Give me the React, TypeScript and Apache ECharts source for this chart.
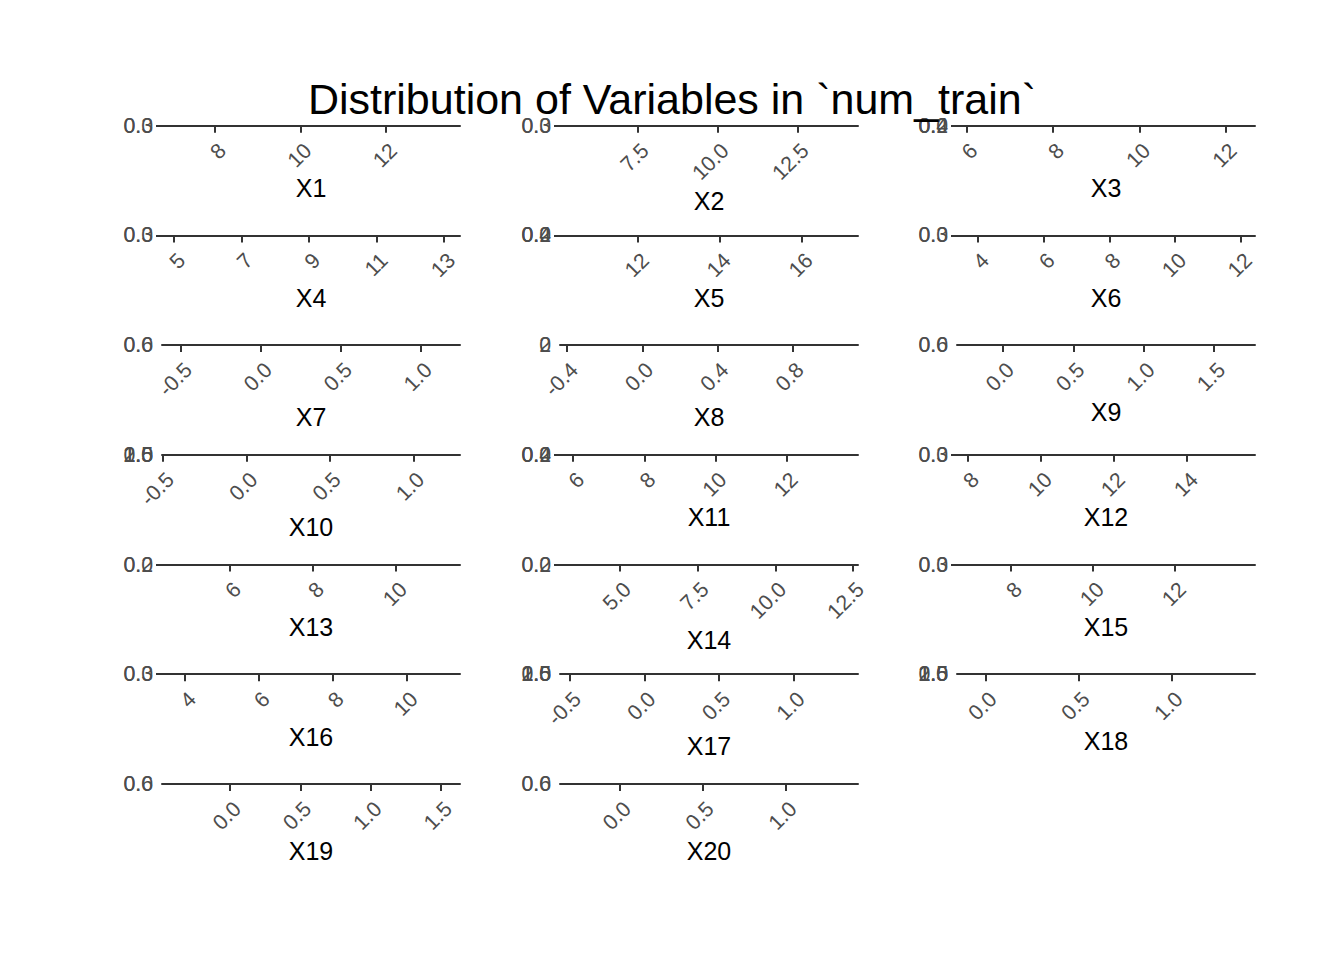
import React, { useEffect, useRef } from "react";
import * as echarts from "echarts";

// ---- data ----
const variables = ["X1", "X2", "X3", "X4", "X5", "X6", "X7", "X8", "X9", "X10",
  "X11", "X12", "X13", "X14", "X15", "X16", "X17", "X18", "X19", "X20"];

const xMin = [6.76, 5.07, 5.78, 4.64, 10.1, 3.36, -0.619, -0.437, -0.327, -0.506,
  5.63, 7.7, 4.36, 3.07, 6.68, 3.38, -0.567, -0.154, -0.483, -0.362];
const xMax = [13.73, 14.38, 12.68, 13.47, 17.37, 12.43, 1.244, 1.146, 1.79, 1.28,
  14.0, 15.86, 11.54, 12.66, 13.95, 11.44, 1.43, 1.448, 1.635, 1.436];

const xTicks = [
  [8, 10, 12], [7.5, 10, 12.5], [6, 8, 10, 12],
  [5, 7, 9, 11, 13], [12, 14, 16], [4, 6, 8, 10, 12],
  [-0.5, 0, 0.5, 1], [-0.4, 0, 0.4, 0.8], [0, 0.5, 1, 1.5],
  [-0.5, 0, 0.5, 1], [6, 8, 10, 12], [8, 10, 12, 14],
  [6, 8, 10], [5, 7.5, 10, 12.5], [8, 10, 12],
  [4, 6, 8, 10], [-0.5, 0, 0.5, 1], [0, 0.5, 1],
  [0, 0.5, 1, 1.5], [0, 0.5, 1],
];
const xDecimals = [0, 1, 0, 0, 0, 0, 1, 1, 1, 1, 0, 0, 0, 1, 0, 0, 1, 1, 1, 1];

const yTicks = [
  [0, 0.1, 0.2, 0.3], [0, 0.1, 0.2, 0.3], [0, 0.1, 0.2, 0.3, 0.4],
  [0, 0.1, 0.2, 0.3], [0, 0.1, 0.2, 0.3, 0.4], [0, 0.1, 0.2, 0.3],
  [0, 0.2, 0.4, 0.6], [0, 1, 2], [0, 0.2, 0.4, 0.6],
  [0, 0.5, 1, 1.5, 2, 2.5], [0, 0.1, 0.2, 0.3, 0.4], [0, 0.1, 0.2, 0.3],
  [0, 0.1, 0.2], [0, 0.1, 0.2], [0, 0.1, 0.2, 0.3],
  [0, 0.1, 0.2, 0.3], [0, 0.5, 1, 1.5, 2, 2.5], [0, 0.5, 1, 1.5, 2, 2.5],
  [0, 0.2, 0.4, 0.6], [0, 0.2, 0.4, 0.6],
];
const yDecimals = [1, 1, 1, 1, 1, 1, 1, 0, 1, 1, 1, 1, 1, 1, 1, 1, 1, 1, 1, 1];

const chartTitle = "Distribution of Variables in `num_train`";

// ---- layout ----
const colLeft = [162, 560, 957];
const colRight = [460, 858, 1255];
const rowTop0 = 125.7;
const rowStep = 109.7;
const FONT = "Liberation Sans, Arial, Helvetica, sans-serif";
const TICK_FS = 21.3;
const NAME_FS = 25;

function emWidth(s: string): number {
  let w = 0;
  for (const c of s) {
    if (c === ".") w += 0.278;
    else if (c === "-") w += 0.333;
    else w += 0.556;
  }
  return w;
}

export default function App() {
  const ref = useRef<HTMLDivElement>(null);
  useEffect(() => {
    if (!ref.current) return;
    const chart = echarts.init(ref.current, null, { renderer: "svg" });
    const grids: any[] = [];
    const xAxes: any[] = [];
    const yAxes: any[] = [];
    variables.forEach((name, i) => {
      const r = Math.floor(i / 3);
      const c = i % 3;
      const top = rowTop0 + rowStep * r;
      grids.push({
        left: colLeft[c],
        width: colRight[c] - colLeft[c],
        top,
        height: 0,
        outerBoundsMode: "none",
        containLabel: false,
      });
      const fmtX = (v: number) => v.toFixed(xDecimals[i]);
      const maxEm = Math.max(...xTicks[i].map((v) => emWidth(fmtX(v))));
      const nameGap = 50 + 15.2 * (maxEm - 1.112);
      xAxes.push({
        type: "value",
        gridIndex: i,
        position: "bottom",
        min: xMin[i],
        max: xMax[i],
        name,
        nameLocation: "middle",
        nameGap,
        nameMoveOverlap: false,
        nameTextStyle: { color: "#000000", fontSize: NAME_FS, fontFamily: FONT },
        axisLine: { show: true, lineStyle: { color: "#333333", width: 2 } },
        axisTick: {
          show: true,
          length: 7,
          lineStyle: { color: "#333333", width: 2 },
          customValues: xTicks[i],
        },
        axisLabel: {
          customValues: xTicks[i],
          formatter: (v: number) => fmtX(v),
          rotate: 45,
          align: "right",
          verticalAlign: "top",
          margin: 14,
          color: "#4D4D4D",
          fontSize: TICK_FS,
          fontFamily: FONT,
          showMinLabel: true,
          showMaxLabel: true,
          hideOverlap: false,
        },
        splitLine: { show: false },
      });
      const yt = yTicks[i];
      yAxes.push({
        type: "value",
        gridIndex: i,
        min: 0,
        max: yt[yt.length - 1],
        axisLine: { show: false },
        axisTick: {
          show: true,
          length: 6,
          lineStyle: { color: "#333333", width: 2 },
          customValues: yt,
        },
        axisLabel: {
          customValues: yt,
          formatter: (v: number) => v.toFixed(yDecimals[i]),
          color: "#4D4D4D",
          fontSize: TICK_FS,
          fontFamily: FONT,
          margin: 9,
          showMinLabel: true,
          showMaxLabel: true,
          hideOverlap: false,
        },
        splitLine: { show: false },
      });
    });
    chart.setOption({
      animation: false,
      backgroundColor: "#ffffff",
      title: {
        text: chartTitle,
        left: "center",
        top: 72,
        textStyle: { color: "#000000", fontSize: 43, fontWeight: "normal", fontFamily: FONT },
      },
      grid: grids,
      xAxis: xAxes,
      yAxis: yAxes,
      series: [],
    });
    return () => chart.dispose();
  }, []);
  return (
    <div
      ref={ref}
      style={{ position: "fixed", left: 0, top: 0, width: 1344, height: 960, background: "#fff" }}
    />
  );
}
